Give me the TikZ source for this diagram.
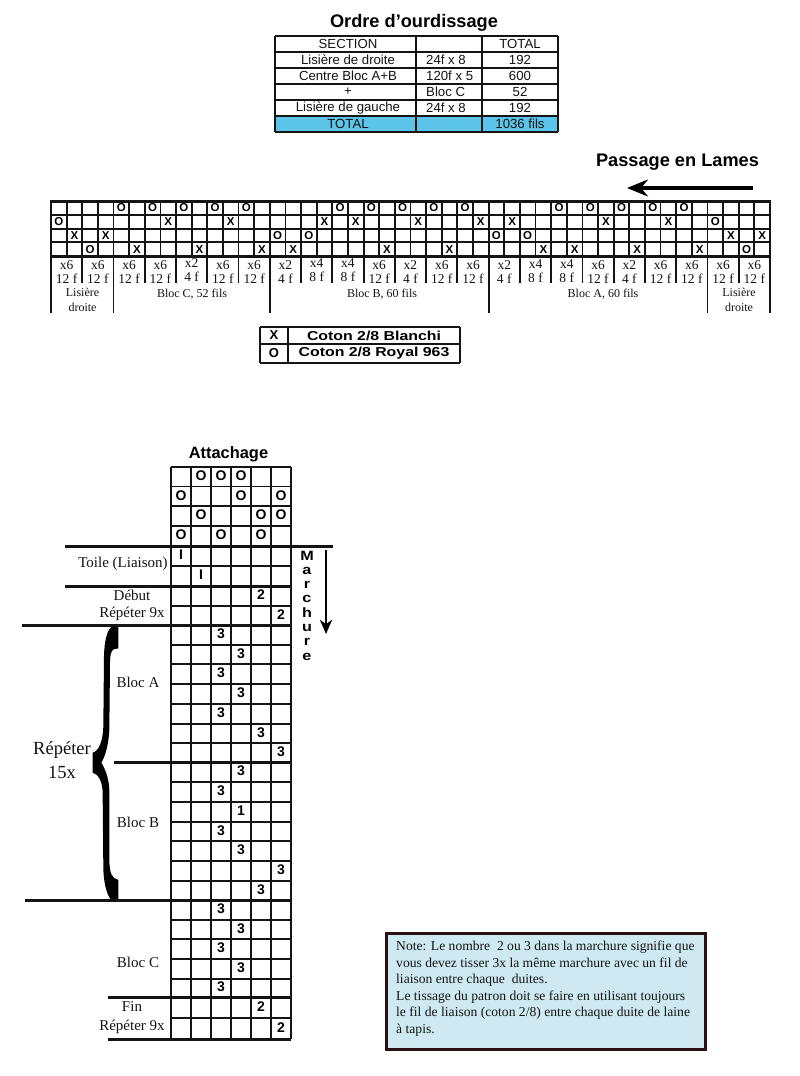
\documentclass[tikz,border=0pt]{standalone}
\usepackage{fontspec}
\setmainfont{Liberation Serif}
\setsansfont{Liberation Sans}
\usetikzlibrary{arrows.meta}
\newcommand{\pxf}[1]{\fontsize{#1}{#1}\selectfont}
\definecolor{tealfill}{HTML}{5CC4E8}
\definecolor{notefill}{HTML}{CEE9F1}
\definecolor{notedge}{HTML}{2A1012}
\definecolor{ink}{HTML}{141414}
\tikzset{
  cell/.style={inner sep=0pt,font=\sffamily\pxf{13.2},text=ink},
  headtxt/.style={inner sep=0pt,font=\sffamily\bfseries\pxf{18.2},text=black},
  thmark/.style={inner sep=0pt,font=\sffamily\bfseries\pxf{11.5},text=black},
  atmark/.style={inner sep=0pt,font=\sffamily\bfseries\pxf{14},text=black},
  cnt/.style={inner sep=0pt,font=\pxf{13.5},text=ink},
  cntb/.style={inner sep=0pt,font=\pxf{12},text=ink},
  lab/.style={inner sep=0pt,font=\pxf{15},text=ink},
  gridl/.style={line width=1.8pt,color=ink},
  thickl/.style={line width=3pt,color=ink},
}
\begin{document}
\begin{tikzpicture}[x=1pt,y=-1pt]
\useasboundingbox (0,0) rectangle (800,1076);
\fill[white] (0,0) rectangle (800,1076);
% --- Ordre d'ourdissage
\node[headtxt] (ordre) at (414,23) {Ordre d’ourdissage};
\fill[tealfill] (275,116) rectangle (558,132);
\foreach \y in {36,52,68,84,100,116,132} \draw[gridl] (275,\y) -- (558,\y);
\foreach \x in {275,416,482,558} \draw[gridl] (\x,36) -- (\x,132);
\foreach \n/\y/\t in {a1/44/SECTION,a2/60/Lisière de droite,a3/76/Centre Bloc A+B,a4/92/+,a5/108/Lisière de gauche,a6/124/TOTAL}
  \node[cell] (\n) at (348,\y) {\t};
\foreach \n/\y/\t in {b2/60/24f x 8,b3/76/120f x 5,b4/92/Bloc C,b5/108/24f x 8}
  \node[cell,anchor=west] (\n) at (426,\y) {\t};
\foreach \n/\y/\t in {c1/44/TOTAL,c2/60/192,c3/76/600,c4/92/52,c5/108/192,c6/124/1036 fils}
  \node[cell] (\n) at (520,\y) {\t};
% --- Passage en Lames
\node[headtxt] (passage) at (677.5,162) {Passage en Lames};
\coordinate (pa) at (753,188);
\coordinate (pb) at (627,188);
\draw[line width=4.5pt,-{Stealth[length=21pt,width=17pt,inset=7pt]}] (pa) -- (pb);
% threading grid
\foreach \y in {215,229,242} \draw[gridl] (51,\y) -- (770,\y);
\foreach \y in {201,256} \draw[thickl] (50,\y) -- (771,\y);
\foreach \c in {0,...,46} {
  \pgfmathsetmacro\xx{51+15.63*\c}
  \draw[gridl] (\xx,201) -- (\xx,256);
}
\foreach \c in {0,2,...,46} {
  \pgfmathsetmacro\xx{51+15.63*\c}
  \draw[gridl] (\xx,256) -- (\xx,283);
}
\foreach \c in {0,4,14,28,42,46} {
  \pgfmathsetmacro\xx{51+15.63*\c}
  \draw[gridl] (\xx,283) -- (\xx,313);
}
\foreach \c/\r/\m in {1/2/O,2/3/X,3/4/O,4/3/X,
  5/1/O,6/4/X,7/1/O,8/2/X,9/1/O,10/4/X,11/1/O,12/2/X,13/1/O,14/4/X,
  15/3/O,16/4/X,17/3/O,18/2/X,19/1/O,20/2/X,21/1/O,22/4/X,23/1/O,24/2/X,25/1/O,26/4/X,27/1/O,28/2/X,
  29/3/O,30/2/X,31/3/O,32/4/X,33/1/O,34/4/X,35/1/O,36/2/X,37/1/O,38/4/X,39/1/O,40/2/X,41/1/O,42/4/X,
  43/2/O,44/3/X,45/4/O,46/3/X}{
  \pgfmathsetmacro\xx{51+15.63*(\c-.5)}
  \pgfmathsetmacro\yy{201+13.75*(\r-.5)}
  \node[thmark] (t\c) at (\xx,\yy) {\m};
}
\foreach \g/\t/\f/\d in {1/x6/12 f/0,2/x6/12 f/0,3/x6/12 f/0,4/x6/12 f/0,5/x2/4 f/2,6/x6/12 f/0,7/x6/12 f/0,
  8/x2/4 f/0,9/x4/8 f/2,10/x4/8 f/2,11/x6/12 f/0,12/x2/4 f/0,13/x6/12 f/0,14/x6/12 f/0,
  15/x2/4 f/0,16/x4/8 f/1,17/x4/8 f/1,18/x6/12 f/0,19/x2/4 f/0,20/x6/12 f/0,21/x6/12 f/0,
  22/x6/12 f/0,23/x6/12 f/0}{
  \pgfmathsetmacro\xx{51+31.26*(\g-.5)}
  \pgfmathsetmacro\ya{265-\d}
  \pgfmathsetmacro\yb{279-\d}
  \node[cnt] (g\g) at (\xx,\ya) {\t};
  \node[cnt] (f\g) at (\xx,\yb) {\f};
}
\node[cntb] (l1a) at (82.5,292) {Lisière};
\node[cntb] (l1b) at (82.5,307) {droite};
\node[cntb] (blc) at (192,294) {Bloc C, 52 fils};
\node[cntb] (blb) at (382,294) {Bloc B, 60 fils};
\node[cntb] (bla) at (603,294) {Bloc A, 60 fils};
\node[cntb] (l2a) at (739,292) {Lisière};
\node[cntb] (l2b) at (739,307) {droite};
% legend
\foreach \y in {327,344,363} \draw[gridl] (260,\y) -- (460,\y);
\foreach \x in {260,288,460} \draw[gridl] (\x,327) -- (\x,363);
\node[thmark,font=\sffamily\bfseries\pxf{13}] (lx) at (274,335.5) {X};
\node[thmark,font=\sffamily\bfseries\pxf{13}] (lo) at (274,353.5) {O};
\node[inner sep=0pt,font=\sffamily\bfseries\pxf{13},xscale=1.22] (lxt) at (374,335.5) {Coton 2/8 Blanchi};
\node[inner sep=0pt,font=\sffamily\bfseries\pxf{13},xscale=1.22] (lot) at (374,353.5) {Coton 2/8 Royal 963};
% --- Attachage
\node[inner sep=0pt,font=\sffamily\bfseries\pxf{16.4},text=black] (att) at (228.5,454) {Attachage};
\foreach \y in {467,486.5,506,526,546,566,586,606,625,645,664,684,704,724,743,762,782,802,822,841,861,881,900,920,939,959,979,997,1018,1039}
  \draw[gridl] (171,\y) -- (291,\y);
\foreach \x in {171,191,211,231,251,271,291} \draw[gridl] (\x,467) -- (\x,1039);
\foreach \c/\y/\m [count=\k] in {2/475.75/O,3/475.75/O,4/475.75/O,1/495.25/O,4/495.25/O,6/495.25/O,2/515/O,5/515/O,6/515/O,1/535/O,3/535/O,5/535/O,
  1/555/I,2/575/I,5/595/2,6/614.5/2,
  3/634/3,4/653.5/3,3/673/3,4/693/3,3/713/3,5/732.5/3,6/751.5/3,
  4/771/3,3/791/3,4/811/1,3/830.5/3,4/850/3,6/870/3,5/889.5/3,
  3/909/3,4/928.5/3,3/948/3,4/968/3,3/987/3,5/1006.5/2,6/1027.5/2}{
  \pgfmathsetmacro\xx{171+20*(\c-.5)}
  \node[atmark] (m\k) at (\xx,\y) {\m};
}
\draw[thickl] (65,546) -- (333,546);
\draw[thickl] (65,586) -- (291,586);
\draw[thickl] (22,625) -- (291,625);
\draw[thickl] (114,762) -- (291,762);
\draw[thickl] (25,900) -- (291,900);
\draw[thickl] (108,997) -- (291,997);
\draw[thickl] (108,1039) -- (291,1039);
\node[lab] (toile) at (123,564) {Toile (Liaison)};
\node[lab] (debut) at (132,595) {Début};
\node[lab] (rep1) at (132,614) {Répéter 9x};
\node[lab] (blocA) at (138,682) {Bloc A};
\node[lab] (blocB) at (138,822) {Bloc B};
\node[lab] (blocC) at (138,962) {Bloc C};
\node[lab] (fin) at (132,1007) {Fin};
\node[lab] (rep2) at (132,1027) {Répéter 9x};
\node[lab,font=\pxf{18.5}] (rep3) at (62,750) {Répéter};
\node[lab,font=\pxf{18.5}] (rep4) at (62,772) {15x};
% Marchure
\foreach \n/\y/\t in {1/556/M,2/571/a,3/585/r,4/599/c,5/613/h,6/628/u,7/642/r,8/657/e}
  \node[inner sep=0pt,font=\sffamily\bfseries\pxf{13.5},xscale=1.2,text=black] (mc\n) at (307,\y) {\t};
\coordinate (ma) at (326,550);
\coordinate (mb) at (326,634);
\draw[line width=2.6pt,-{Stealth[length=14pt,width=12pt,inset=4pt]}] (ma) -- (mb);
% brace
\begin{scope}[shift={(10,620)},x=0.3333pt,y=-0.3333pt]
\fill[black] (325,20) -- (325,85) -- (310,88) .. controls (302,95) and (300,110) .. (300,130)
  -- (298,330) .. controls (296,375) and (285,410) .. (274,428)
  .. controls (285,445) and (297,475) .. (298,510) -- (298,720)
  .. controls (299,760) and (305,775) .. (325,780) -- (325,838) -- (302,838)
  .. controls (288,820) and (280,780) .. (280,740) -- (278,520)
  .. controls (278,485) and (265,462) .. (248,458) -- (248,398)
  .. controls (265,395) and (279,365) .. (280,320) -- (282,110)
  .. controls (283,60) and (292,30) .. (305,20) -- cycle;
\end{scope}
% Note
\node[draw=notedge,fill=notefill,line width=3pt,minimum width=319pt,minimum height=116pt,inner sep=0pt] (notebox) at (546,991.5) {};
\foreach \n/\y/\t in {1/947/{Note: Le nombre \ 2 ou 3 dans la marchure signifie que},
  2/963/{vous devez tisser 3x la même marchure avec un fil de},
  3/980/{liaison entre chaque \ duites.},
  4/997/{Le tissage du patron doit se faire en utilisant toujours},
  5/1013/{le fil de liaison (coton 2/8) entre chaque duite de laine},
  6/1030/{à tapis.}}
  \node[inner sep=0pt,anchor=west,font=\pxf{13.6},text=ink] (nt\n) at (396,\y) {\t};
\end{tikzpicture}
\end{document}
